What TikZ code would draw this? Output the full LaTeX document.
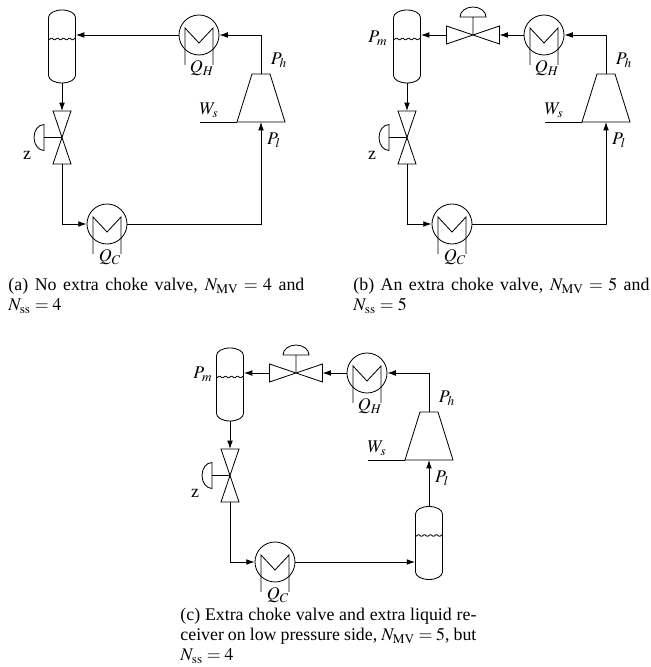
\documentclass[tikz,border=0pt]{standalone}
\usepackage{mathptmx}
\usepackage[no-math]{fontspec}
\setmainfont{Liberation Serif}
\usetikzlibrary{arrows.meta}
\tikzset{
  pipe/.style={-{Latex[length=5pt,width=3.4pt]}},
  caption/.style={anchor=base west, inner sep=0pt, text width=177.6pt, align=justify},
  hx/.pic={
    \node[circle, draw, minimum size=24pt, inner sep=0pt] (-c) {};
    \draw (-14,-30) -- (-14,7) -- (0,-8) -- (14,7) -- (14,-30);
    \node (-q) at (3,-33) {$#1$};
  },
  tank/.pic={
    \draw (-13.5,29) arc (180:0:13.5 and 7.5) -- (13.5,-29) arc (0:-180:13.5 and 7.5) -- cycle;
    \draw plot[domain=-13.5:13.5, samples=41, smooth] (\x, {7.5+0.8*sin(\x*60)});
    \node[minimum width=16.2pt, minimum height=43.8pt, inner sep=0pt] (-c) {};
  },
  valve/.pic={
    \draw (-9,26.5) -- (9,26.5) -- (-9,-26.5) -- (9,-26.5) -- cycle;
    \draw (0,0) -- (-18,0) (-18,13) arc (90:270:10 and 13) -- cycle;
    \coordinate (-in) at (0,26.5);
    \coordinate (-out) at (0,-26.5);
  },
  comp/.pic={
    \draw (-9,24) -- (9,24) -- (24,-24) -- (-24,-24) -- cycle;
    \draw (-24,-24) -- (-61,-24);
    \coordinate (-top) at (0,24);
    \coordinate (-bot) at (0,-24);
    \node (-ph) at (18,38) {$P_h$};
    \node (-ws) at (-52,-12) {$W_s$};
    \node (-pl) at (13,-42) {$P_l$};
  }
}
\begin{document}
\begin{tikzpicture}[x=0.6pt, y=0.6pt, line width=0.5pt, font=\fontsize{10.7pt}{12pt}\selectfont]
\useasboundingbox (0,0) rectangle (651,667);
\pic (tanka) at (62,620.5) {tank};
\pic (valvea) at (62,529.5) {valve};
\pic (hxca) at (107,443) {hx=Q_C};
\pic (compa) at (261,569) {comp};
\pic (hxha) at (199,632) {hx=Q_H};
\node (za) at (27,512) {z};
\draw[pipe] (compa-top) |- (hxha-c.east);
\draw[pipe] (hxha-c.west) -- (hxha-c.west -| tanka-c.east);
\draw[pipe] (tanka-c.south) -- (valvea-in);
\draw[pipe] (valvea-out) |- (hxca-c.west);
\draw[pipe] (hxca-c.east) -| (compa-bot);
\node[caption] (capa) at (8,376) {(a) No extra choke valve, $N_{\mathrm{MV}}=4$ and\linebreak $N_{\mathrm{ss}}=4$};

\begin{scope}[shift={(345,0)}]
\pic (tankb) at (62,620.5) {tank};
\pic (valveb) at (62,529.5) {valve};
\pic (hxcb) at (107,443) {hx=Q_C};
\pic (compb) at (261,569) {comp};
\pic (hxhb) at (199,632) {hx=Q_H};
\pic[rotate=-90] (chokeb) at (128,632) {valve};
\node (zb) at (27,512) {z};
\node (pmb) at (33,629) {$P_m$};
\draw[pipe] (compb-top) |- (hxhb-c.east);
\draw[pipe] (hxhb-c.west) -- (chokeb-in);
\draw[pipe] (chokeb-out) -- (chokeb-out -| tankb-c.east);
\draw[pipe] (tankb-c.south) -- (valveb-in);
\draw[pipe] (valveb-out) |- (hxcb-c.west);
\draw[pipe] (hxcb-c.east) -| (compb-bot);
\end{scope}
\node[caption] (capb) at (353,376) {(b) An extra choke valve, $N_{\mathrm{MV}}=5$ and\linebreak $N_{\mathrm{ss}}=5$};

\begin{scope}[shift={(168,-338)}]
\pic (tankc) at (62,620.5) {tank};
\pic (valvec) at (62,529.5) {valve};
\pic (hxcc) at (107,443) {hx=Q_C};
\pic (compc) at (261,569) {comp};
\pic (hxhc) at (199,632) {hx=Q_H};
\pic[rotate=-90] (chokec) at (128,632) {valve};
\pic (recc) at (261,462) {tank};
\node (zc) at (27,512) {z};
\node (pmc) at (35,631) {$P_m$};
\draw[pipe] (compc-top) |- (hxhc-c.east);
\draw[pipe] (hxhc-c.west) -- (chokec-in);
\draw[pipe] (chokec-out) -- (chokec-out -| tankc-c.east);
\draw[pipe] (tankc-c.south) -- (valvec-in);
\draw[pipe] (valvec-out) |- (hxcc-c.west);
\draw[pipe] (hxcc-c.east) -- (hxcc-c.east -| recc-c.west);
\draw[pipe] (recc-c.north) -- (compc-bot);
\end{scope}
\node[caption] (capc) at (180,46) {(c) Extra choke valve and extra liquid re-\linebreak ceiver on low pressure side, $N_{\mathrm{MV}}=5$, but\linebreak $N_{\mathrm{ss}}=4$};
\end{tikzpicture}
\end{document}
